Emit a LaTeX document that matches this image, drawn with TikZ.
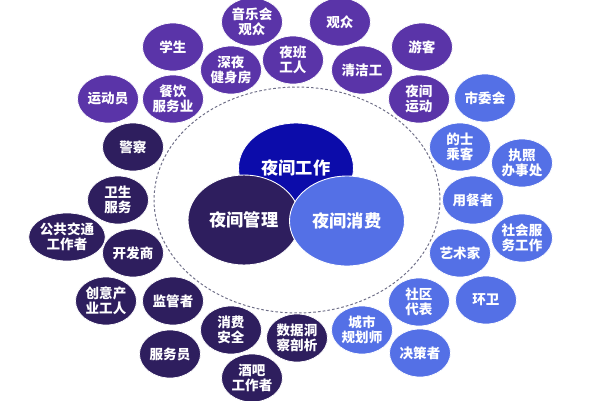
\documentclass[tikz,border=0pt]{standalone}
\usepackage{fontspec}
\setmainfont{Noto Sans CJK SC}
\usepackage{tikz}
\usetikzlibrary{shapes.geometric,positioning}
\definecolor{NightPurple}{RGB}{90, 52, 168}
\definecolor{NightDark}{RGB}{46, 30, 94}
\definecolor{NightBlue}{RGB}{84, 112, 230}
\definecolor{NightNavy}{RGB}{12, 12, 170}
\definecolor{RingGray}{RGB}{110, 110, 135}

\begin{document}
\begin{tikzpicture}[
    x=0.02cm, y=-0.02cm,
    bubble/.style={ellipse, draw=white, line width=0.4pt, minimum width=1.22cm, minimum height=0.96cm, inner sep=0pt, align=center, text=white, font=\fontsize{7.7}{8.7}\selectfont\bfseries},
    purbubble/.style={bubble, fill=NightPurple},
    darkbubble/.style={bubble, fill=NightDark},
    bluebubble/.style={bubble, fill=NightBlue},
    core/.style={ellipse, draw=white, line width=0.5pt, minimum width=2.3cm, minimum height=1.8cm, inner sep=0pt, align=center, text=white, font=\fontsize{9.8}{11}\selectfont\bfseries},
  ]
    \useasboundingbox (0,0) rectangle (600,400);
    \fill[white] (0,0) rectangle (600,400);

    \draw[RingGray, line width=0.55pt, dash pattern=on 1.5pt off 1.2pt] (297,200) ellipse [x radius=2.86cm, y radius=2.26cm];

    \node[core, fill=NightNavy] (work) at (296,168) {夜间工作};
    \node[core, fill=NightDark, minimum width=2.24cm] (manage) at (244,220) {夜间管理};
    \node[core, fill=NightBlue] (consume) at (347,221) {夜间消费};

    \node[purbubble] (concert) at (252,22) {音乐会\\观众};
    \node[purbubble] (audience) at (340,22) {观众};
    \node[purbubble] (student) at (173,47) {学生};
    \node[purbubble] (tourist) at (422,47) {游客};
    \node[purbubble] (shift) at (293,60) {夜班\\工人};
    \node[purbubble] (gym) at (231,70) {深夜\\健身房};
    \node[purbubble] (cleaner) at (362,70) {清洁工};
    \node[purbubble] (athlete) at (108,99) {运动员};
    \node[purbubble] (catering) at (173,99) {餐饮\\服务业};
    \node[purbubble] (sport) at (419,99) {夜间\\运动};

    \node[darkbubble] (police) at (133,147) {警察};
    \node[darkbubble] (health) at (118,200) {卫生\\服务};
    \node[darkbubble] (transit) at (67,237) {公共交通\\工作者};
    \node[darkbubble] (developer) at (133,253) {开发商};
    \node[darkbubble] (creative) at (106,301) {创意产\\业工人};
    \node[darkbubble] (regulator) at (173,301) {监管者};
    \node[darkbubble] (safety) at (231,330) {消费\\安全};
    \node[darkbubble] (waiter) at (170,354) {服务员};
    \node[darkbubble] (data) at (297,338) {数据洞\\察剖析};
    \node[darkbubble] (bar) at (252,378) {酒吧\\工作者};

    \node[bluebubble] (council) at (485,98) {市委会};
    \node[bluebubble] (taxi) at (460,147) {的士\\乘客};
    \node[bluebubble] (licence) at (522,163) {执照\\办事处};
    \node[bluebubble] (diner) at (473,200) {用餐者};
    \node[bluebubble] (social) at (522,238) {社会服\\务工作};
    \node[bluebubble] (artist) at (460,253) {艺术家};
    \node[bluebubble] (sanitation) at (486,300) {环卫};
    \node[bluebubble] (community) at (419,302) {社区\\代表};
    \node[bluebubble] (planner) at (362,330) {城市\\规划师};
    \node[bluebubble] (decision) at (420,353) {决策者};
  \end{tikzpicture}
\end{document}
